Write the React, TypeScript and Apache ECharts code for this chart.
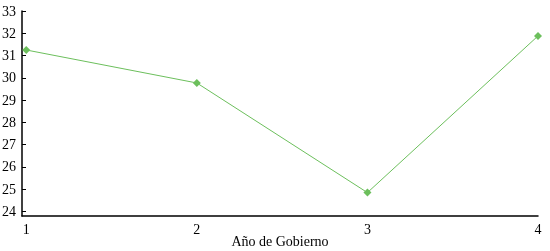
import React, { useEffect, useRef } from "react";
import * as echarts from "echarts";

const years = [1, 2, 3, 4];
const values = [31.25, 29.77, 24.85, 31.88];
const yTicks = [24, 25, 26, 27, 28, 29, 30, 31, 32, 33];
const xName = "Año de Gobierno";

export default function App() {
  const ref = useRef<HTMLDivElement>(null);
  useEffect(() => {
    if (!ref.current) return;
    const chart = echarts.init(ref.current, null, { renderer: "svg" });
    const font = "'Liberation Serif', 'Times New Roman', serif";
    chart.setOption({
      animation: false,
      grid: {
        left: 22,
        right: 12,
        top: 11,
        bottom: 35,
        containLabel: false,
        outerBoundsMode: "none",
      },
      xAxis: {
        type: "value",
        min: 0.975,
        max: 4,
        name: xName,
        nameLocation: "middle",
        nameGap: 18,
        nameMoveOverlap: false,
        nameTextStyle: { color: "#000", fontFamily: font, fontSize: 14 },
        axisLine: { show: true, lineStyle: { color: "#000", width: 1.5 } },
        axisTick: { show: false },
        splitLine: { show: false },
        axisLabel: {
          customValues: years,
          color: "#000",
          fontFamily: font,
          fontSize: 14,
          margin: 6,
        },
      },
      yAxis: {
        type: "value",
        min: 23.8,
        max: 33,
        axisLine: { show: true, lineStyle: { color: "#000", width: 1.5 } },
        axisTick: {
          show: true,
          inside: true,
          length: 4,
          customValues: yTicks,
          lineStyle: { color: "#000" },
        },
        splitLine: { show: false },
        axisLabel: {
          customValues: yTicks,
          color: "#000",
          fontFamily: font,
          fontSize: 14,
          margin: 6,
        },
      },
      series: [
        {
          type: "line",
          data: years.map((x, i) => [x, values[i]]),
          symbol: "diamond",
          symbolSize: 8,
          lineStyle: { color: "#6cbf5c", width: 1 },
          itemStyle: { color: "#6cbf5c" },
        },
      ],
    });
    return () => chart.dispose();
  }, []);
  return (
    <div
      ref={ref}
      style={{ position: "fixed", left: 0, top: 0, width: 550, height: 251 }}
    />
  );
}
